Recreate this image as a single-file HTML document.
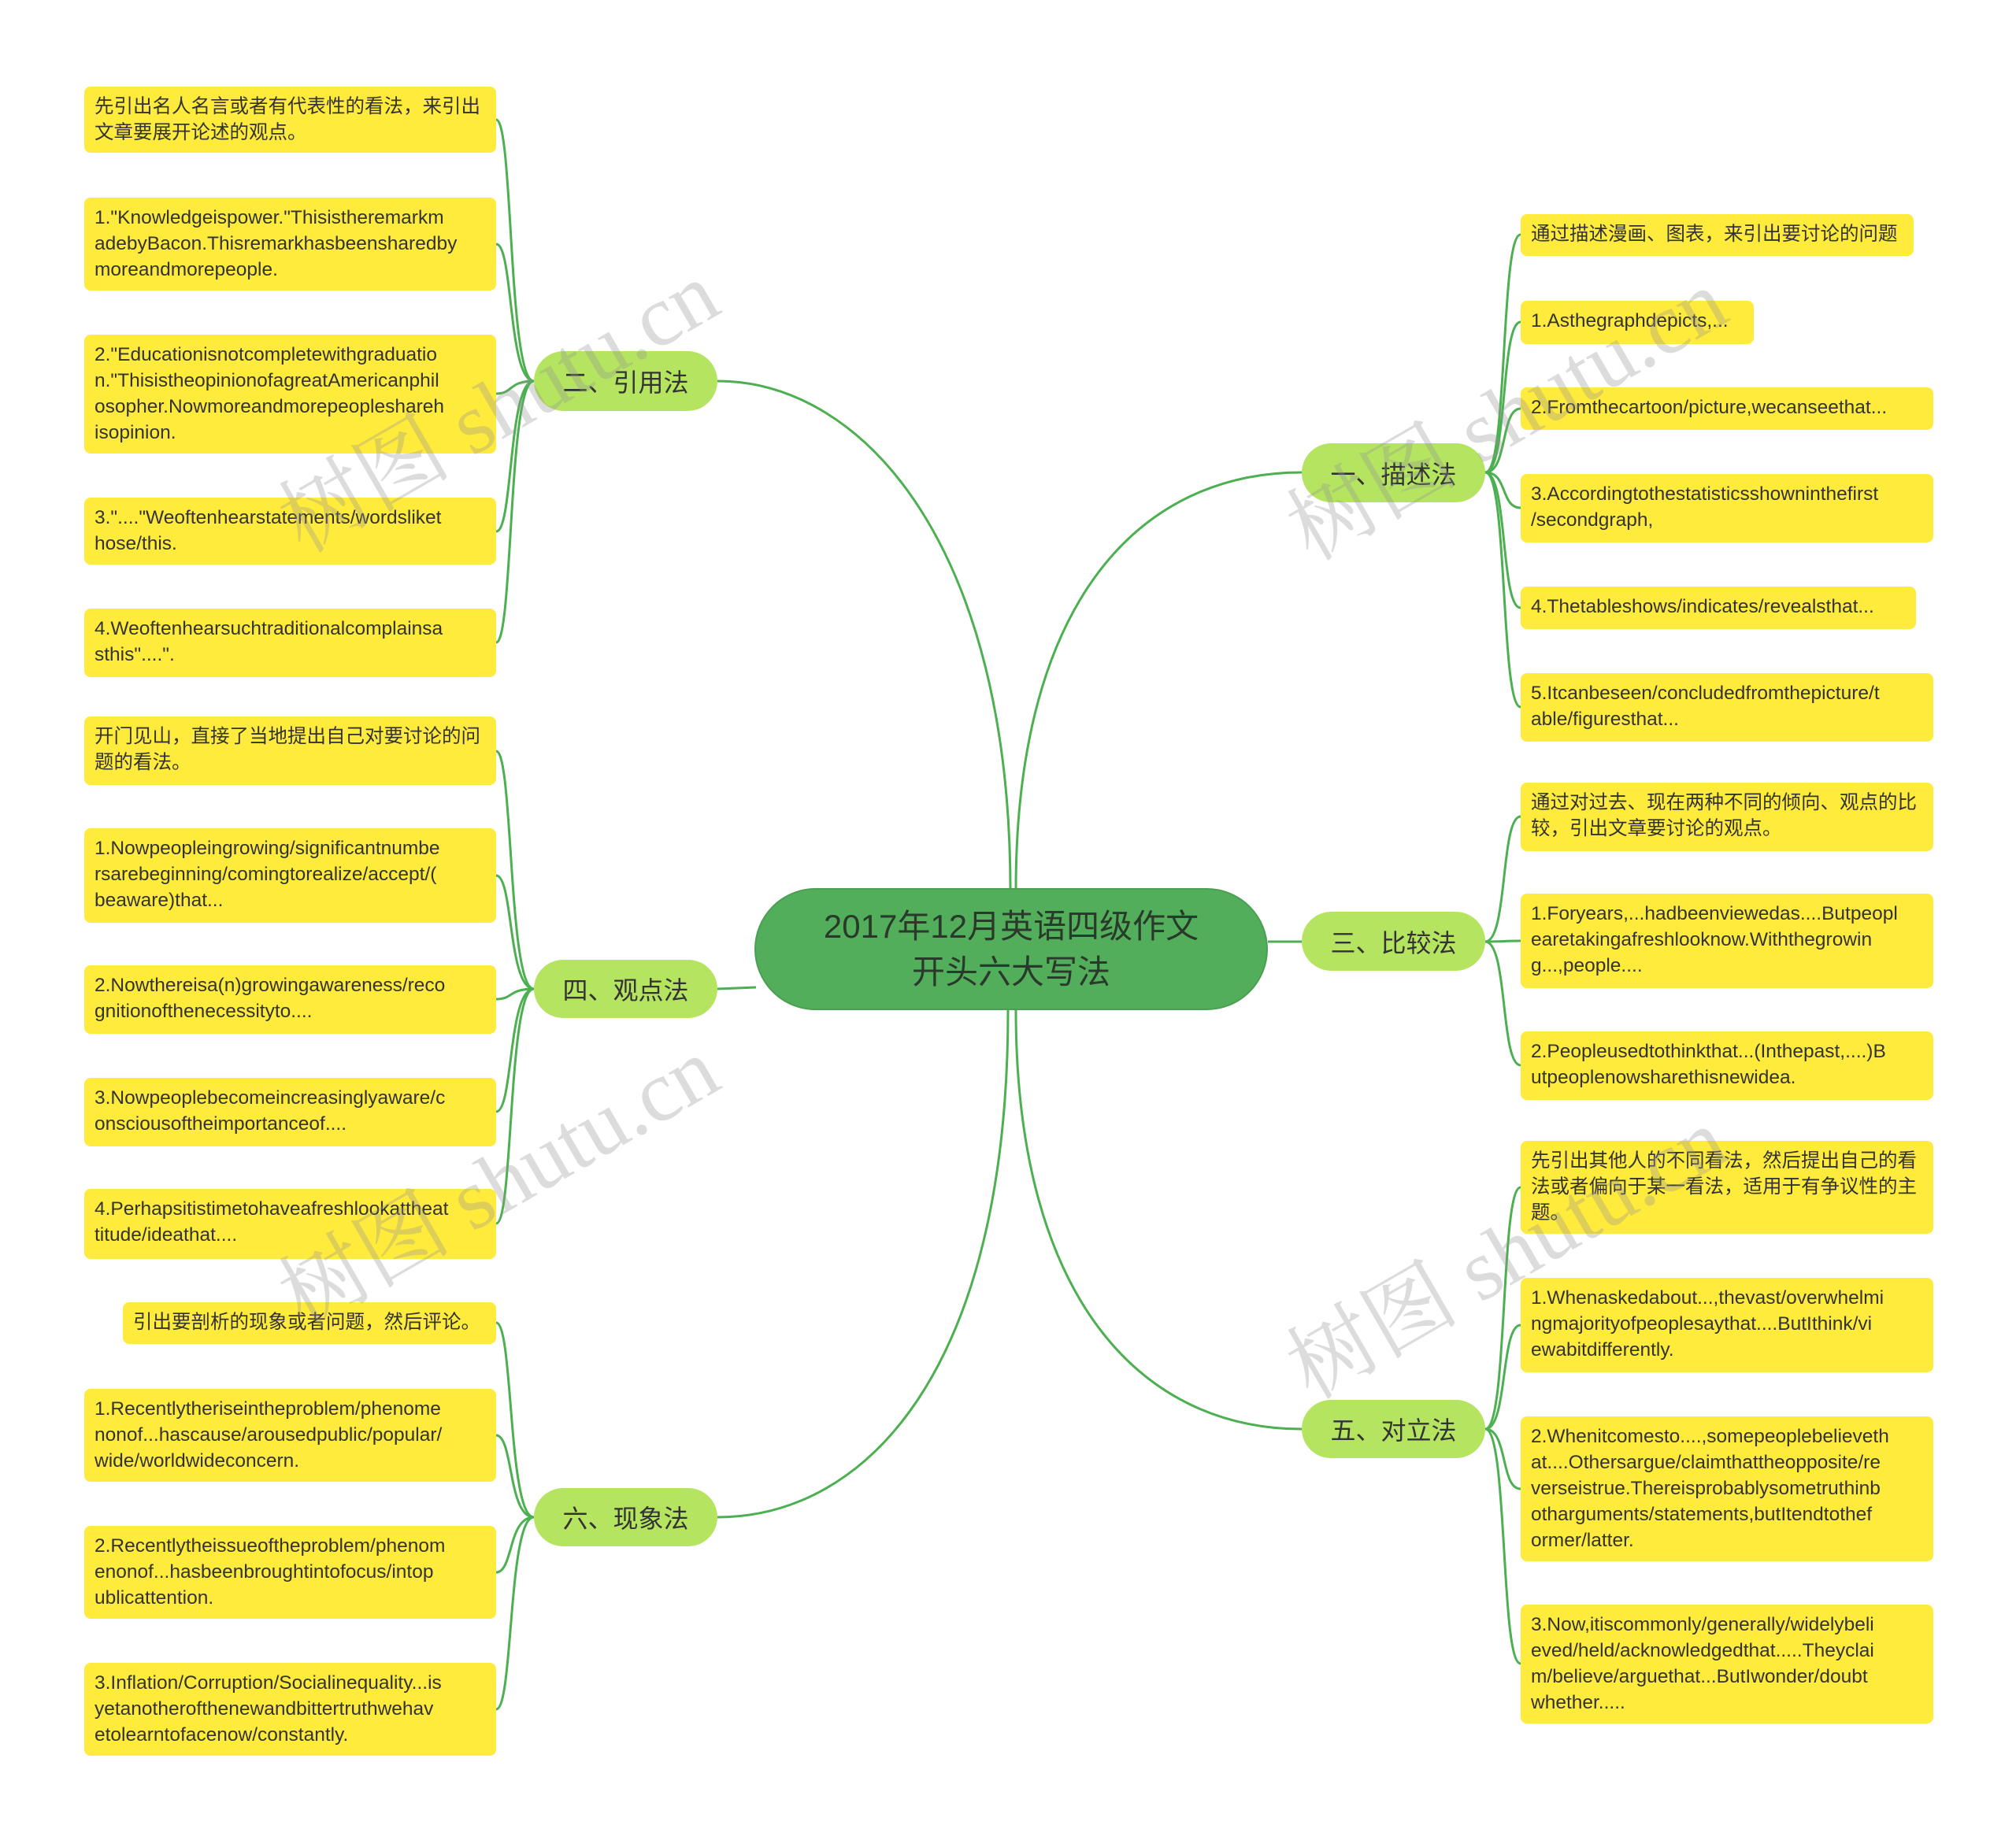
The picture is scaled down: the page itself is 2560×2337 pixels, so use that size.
<!DOCTYPE html>
<html><head><meta charset="utf-8"><style>
body{margin:0;background:#fff;}
#c{position:relative;width:2560px;height:2337px;overflow:hidden;font-family:"Liberation Sans","Noto Sans CJK SC",sans-serif;}
.l{position:absolute;background:#ffeb3b;border-radius:8px;color:#333;font-size:24.5px;line-height:33px;padding:9px 13px;box-sizing:border-box;white-space:nowrap;overflow:hidden;}
.b{position:absolute;background:#b5e461;border-radius:38px;color:#333;font-size:32px;display:flex;align-items:center;justify-content:center;box-sizing:border-box;}
.m{position:absolute;left:958px;top:1128px;width:652px;height:155px;background:#53ae5c;border:2px solid #4a9f52;border-radius:78px;box-sizing:border-box;color:#2a3a2a;font-size:42px;line-height:58px;text-align:center;display:flex;align-items:center;justify-content:center;}
svg{position:absolute;left:0;top:0;}
.w{position:absolute;color:rgba(150,150,150,0.33);font-size:110px;font-family:"Liberation Serif","Noto Serif CJK SC",serif;transform:rotate(-30deg);white-space:nowrap;transform-origin:center;}
</style></head><body><div id="c">
<svg width="2560" height="2337" fill="none" stroke="#4caf50" stroke-width="3">
<path d="M1283 1130 C1283 700 1100 484 911 484"/>
<path d="M1290 1130 C1290 760 1450 600 1653 600"/>
<path d="M1610 1196 L1653 1196"/>
<path d="M960 1254 L911 1256"/>
<path d="M1290 1283 C1290 1650 1450 1815 1653 1815"/>
<path d="M1280 1283 C1280 1740 1100 1927 911 1927"/>
<g>
<path d="M678 484 C645 484 652 152 630 152"/>
<path d="M678 484 C645 484 652 310 630 310"/>
<path d="M678 484 C645 484 652 500 630 500"/>
<path d="M678 484 C645 484 652 675 630 675"/>
<path d="M678 484 C645 484 652 816 630 816"/>
<path d="M678 1256 C645 1256 652 954 630 954"/>
<path d="M678 1256 C645 1256 652 1112 630 1112"/>
<path d="M678 1256 C645 1256 652 1269 630 1269"/>
<path d="M678 1256 C645 1256 652 1412 630 1412"/>
<path d="M678 1256 C645 1256 652 1554 630 1554"/>
<path d="M678 1927 C645 1927 652 1680 630 1680"/>
<path d="M678 1927 C645 1927 652 1823 630 1823"/>
<path d="M678 1927 C645 1927 652 1997 630 1997"/>
<path d="M678 1927 C645 1927 652 2171 630 2171"/>
<path d="M1886 600 C1915 600 1905 298 1931 298"/>
<path d="M1886 600 C1915 600 1905 409 1931 409"/>
<path d="M1886 600 C1915 600 1905 519 1931 519"/>
<path d="M1886 600 C1915 600 1905 645 1931 645"/>
<path d="M1886 600 C1915 600 1905 772 1931 772"/>
<path d="M1886 600 C1915 600 1905 898 1931 898"/>
<path d="M1886 1196 C1915 1196 1905 1037 1931 1037"/>
<path d="M1886 1196 C1915 1196 1905 1195 1931 1195"/>
<path d="M1886 1196 C1915 1196 1905 1353 1931 1353"/>
<path d="M1886 1815 C1915 1815 1905 1508 1931 1508"/>
<path d="M1886 1815 C1915 1815 1905 1683 1931 1683"/>
<path d="M1886 1815 C1915 1815 1905 1891 1931 1891"/>
<path d="M1886 1815 C1915 1815 1905 2113 1931 2113"/>
</g>
</svg>
<div class="m">2017年12月英语四级作文<br>开头六大写法</div>
<div class="b" style="left:678px;top:446px;width:233px;height:76px">二、引用法</div>
<div class="b" style="left:1653px;top:563px;width:233px;height:75px">一、描述法</div>
<div class="b" style="left:1653px;top:1158px;width:233px;height:75px">三、比较法</div>
<div class="b" style="left:678px;top:1219px;width:233px;height:74px">四、观点法</div>
<div class="b" style="left:1653px;top:1778px;width:233px;height:74px">五、对立法</div>
<div class="b" style="left:678px;top:1890px;width:233px;height:74px">六、现象法</div>

<div class="l" style="left:107px;top:110px;width:523px;height:84px">先引出名人名言或者有代表性的看法，来引出<br>文章要展开论述的观点。</div>
<div class="l" style="left:107px;top:251px;width:523px;height:118px">1."Knowledgeispower."Thisistheremarkm<br>adebyBacon.Thisremarkhasbeensharedby<br>moreandmorepeople.</div>
<div class="l" style="left:107px;top:425px;width:523px;height:151px">2."Educationisnotcompletewithgraduatio<br>n."ThisistheopinionofagreatAmericanphil<br>osopher.Nowmoreandmorepeopleshareh<br>isopinion.</div>
<div class="l" style="left:107px;top:632px;width:523px;height:85px">3."...."Weoftenhearstatements/wordsliket<br>hose/this.</div>
<div class="l" style="left:107px;top:773px;width:523px;height:87px">4.Weoftenhearsuchtraditionalcomplainsa<br>sthis"....".</div>

<div class="l" style="left:107px;top:910px;width:523px;height:87px">开门见山，直接了当地提出自己对要讨论的问<br>题的看法。</div>
<div class="l" style="left:107px;top:1052px;width:523px;height:120px">1.Nowpeopleingrowing/significantnumbe<br>rsarebeginning/comingtorealize/accept/(<br>beaware)that...</div>
<div class="l" style="left:107px;top:1226px;width:523px;height:87px">2.Nowthereisa(n)growingawareness/reco<br>gnitionofthenecessityto....</div>
<div class="l" style="left:107px;top:1369px;width:523px;height:87px">3.Nowpeoplebecomeincreasinglyaware/c<br>onsciousoftheimportanceof....</div>
<div class="l" style="left:107px;top:1510px;width:523px;height:89px">4.Perhapsitistimetohaveafreshlookattheat<br>titude/ideathat....</div>

<div class="l" style="left:156px;top:1654px;width:474px;height:53px">引出要剖析的现象或者问题，然后评论。</div>
<div class="l" style="left:107px;top:1764px;width:523px;height:118px">1.Recentlytheriseintheproblem/phenome<br>nonof...hascause/arousedpublic/popular/<br>wide/worldwideconcern.</div>
<div class="l" style="left:107px;top:1938px;width:523px;height:118px">2.Recentlytheissueoftheproblem/phenom<br>enonof...hasbeenbroughtintofocus/intop<br>ublicattention.</div>
<div class="l" style="left:107px;top:2112px;width:523px;height:118px">3.Inflation/Corruption/Socialinequality...is<br>yetanotherofthenewandbittertruthwehav<br>etolearntofacenow/constantly.</div>

<div class="l" style="left:1931px;top:272px;width:499px;height:53px">通过描述漫画、图表，来引出要讨论的问题</div>
<div class="l" style="left:1931px;top:382px;width:296px;height:55px">1.Asthegraphdepicts,...</div>
<div class="l" style="left:1931px;top:492px;width:524px;height:54px">2.Fromthecartoon/picture,wecanseethat...</div>
<div class="l" style="left:1931px;top:602px;width:524px;height:87px">3.Accordingtothestatisticsshowninthefirst<br>/secondgraph,</div>
<div class="l" style="left:1931px;top:745px;width:502px;height:54px">4.Thetableshows/indicates/revealsthat...</div>
<div class="l" style="left:1931px;top:855px;width:524px;height:87px">5.Itcanbeseen/concludedfromthepicture/t<br>able/figuresthat...</div>

<div class="l" style="left:1931px;top:994px;width:524px;height:87px">通过对过去、现在两种不同的倾向、观点的比<br>较，引出文章要讨论的观点。</div>
<div class="l" style="left:1931px;top:1135px;width:524px;height:120px">1.Foryears,...hadbeenviewedas....Butpeopl<br>earetakingafreshlooknow.Withthegrowin<br>g...,people....</div>
<div class="l" style="left:1931px;top:1310px;width:524px;height:87px">2.Peopleusedtothinkthat...(Inthepast,....)B<br>utpeoplenowsharethisnewidea.</div>

<div class="l" style="left:1931px;top:1449px;width:524px;height:118px">先引出其他人的不同看法，然后提出自己的看<br>法或者偏向于某一看法，适用于有争议性的主<br>题。</div>
<div class="l" style="left:1931px;top:1623px;width:524px;height:120px">1.Whenaskedabout...,thevast/overwhelmi<br>ngmajorityofpeoplesaythat....ButIthink/vi<br>ewabitdifferently.</div>
<div class="l" style="left:1931px;top:1799px;width:524px;height:184px">2.Whenitcomesto....,somepeoplebelieveth<br>at....Othersargue/claimthattheopposite/re<br>verseistrue.Thereisprobablysometruthinb<br>otharguments/statements,butItendtothef<br>ormer/latter.</div>
<div class="l" style="left:1931px;top:2038px;width:524px;height:151px">3.Now,itiscommonly/generally/widelybeli<br>eved/held/acknowledgedthat.....Theyclai<br>m/believe/arguethat...ButIwonder/doubt<br>whether.....</div>

<div class="w" style="left:320px;top:430px">树图 shutu.cn</div>
<div class="w" style="left:1600px;top:440px">树图 shutu.cn</div>
<div class="w" style="left:320px;top:1415px">树图 shutu.cn</div>
<div class="w" style="left:1600px;top:1505px">树图 shutu.cn</div>
</div></body></html>
